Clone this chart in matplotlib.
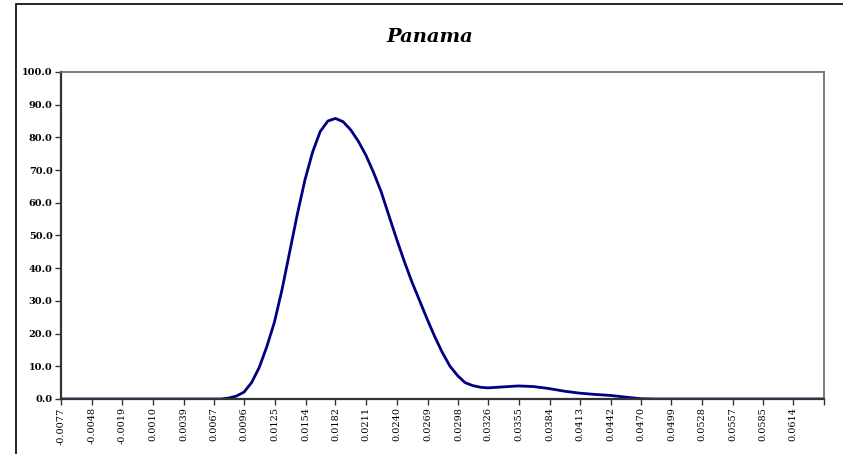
import numpy as np
import matplotlib
matplotlib.use('Agg')
import matplotlib.pyplot as plt
from matplotlib.patches import Rectangle

# values (finer steps where the curve bends)
x = [-0.00770, -0.00626, -0.00482, -0.00338, -0.00195, -0.00051, 0.00093,
     0.00237, 0.00381, 0.00525, 0.00669, 0.00741, 0.00813, 0.00885,
     0.00957, 0.01028, 0.01100, 0.01172, 0.01244, 0.01316, 0.01388,
     0.01460, 0.01532, 0.01604, 0.01676, 0.01748, 0.01820, 0.01892,
     0.01964, 0.02036, 0.02108, 0.02179, 0.02251, 0.02323, 0.02395,
     0.02467, 0.02539, 0.02611, 0.02683, 0.02755, 0.02827, 0.02899,
     0.02971, 0.03043, 0.03115, 0.03186, 0.03258, 0.03402, 0.03546,
     0.03690, 0.03834, 0.03978, 0.04122, 0.04266, 0.04410, 0.04553,
     0.04697, 0.04841, 0.04985, 0.05129, 0.05273, 0.05417, 0.05561,
     0.05705, 0.05849, 0.05993, 0.06137, 0.06281, 0.06425]
y = [0.0, 0.0, 0.0, 0.0, 0.0, 0.0, 0.0,
     0.0, 0.0, 0.0, 0.0, 0.0, 0.3, 0.9,
     2.1, 5.0, 9.6, 16.0, 23.5, 33.5, 45.0,
     56.5, 67.0, 75.5, 81.8, 85.0, 85.8, 84.8,
     82.3, 78.8, 74.5, 69.3, 63.4, 56.2, 49.1,
     42.3, 36.0, 30.3, 24.6, 19.2, 14.3, 10.1,
     7.2, 5.0, 4.1, 3.6, 3.4, 3.7, 4.0,
     3.8, 3.2, 2.4, 1.8, 1.4, 1.1, 0.6,
     0.1, 0.0, 0.0, 0.0, 0.0, 0.0, 0.0,
     0.0, 0.0, 0.0, 0.0, 0.0, 0.0]

xticks = [-0.0077, -0.0048, -0.0019, 0.0010, 0.0039, 0.0067, 0.0096, 0.0125,
          0.0154, 0.0182, 0.0211, 0.0240, 0.0269, 0.0298, 0.0326, 0.0355,
          0.0384, 0.0413, 0.0442, 0.0470, 0.0499, 0.0528, 0.0557, 0.0585,
          0.0614, 0.0643]
xlabels = ['-0.0077', '-0.0048', '-0.0019', '0.0010', '0.0039', '0.0067',
           '0.0096', '0.0125', '0.0154', '0.0182', '0.0211', '0.0240',
           '0.0269', '0.0298', '0.0326', '0.0355', '0.0384', '0.0413',
           '0.0442', '0.0470', '0.0499', '0.0528', '0.0557', '0.0585',
           '0.0614', '']
yticks = [0, 10, 20, 30, 40, 50, 60, 70, 80, 90, 100]

plt.rcParams['font.family'] = ['DejaVu Serif']

fig = plt.figure(figsize=(8.43, 4.54), dpi=100)
ax = fig.add_axes([61/843, 1-399/454, (824-61)/843, (399-72)/454])

# outer chart frame
fig.patches.append(Rectangle((16/843, -0.1), 1.1, 0.1 + (1-4/454), transform=fig.transFigure,
                             fill=False, edgecolor='black', linewidth=1.2))

ax.plot(x, y, color='#000080', linewidth=2.0, solid_joinstyle='round')
ax.set_xlim(-0.0077, 0.0643)
ax.set_ylim(0, 100)
ax.set_xticks(xticks)
ax.set_xticklabels(xlabels, rotation=90, fontsize=7)
ax.set_yticks(yticks)
ax.set_yticklabels(['%.1f' % v for v in yticks], fontsize=7, fontweight='bold')
ax.tick_params(axis='both', direction='out', length=4, width=1, color='#333333', pad=2)

for s in ['left', 'bottom']:
    ax.spines[s].set_color('#333333')
    ax.spines[s].set_linewidth(1.6)
for s in ['top', 'right']:
    ax.spines[s].set_color('#666666')
    ax.spines[s].set_linewidth(1.2)

fig.text(430/843, 1-37/454, 'Panama', ha='center', va='center', fontsize=14,
         fontweight='bold', fontstyle='italic')

plt.savefig('out.png', dpi=100)
